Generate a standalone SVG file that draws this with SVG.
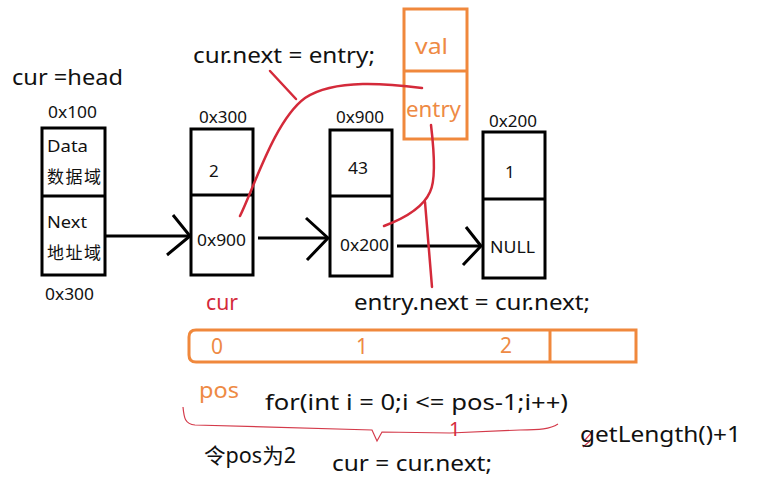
<svg xmlns="http://www.w3.org/2000/svg" width="768" height="496" viewBox="0 0 768 496">
<style>
text{font-family:"Noto Sans","Noto Sans CJK SC",sans-serif;fill:#111}
.box{fill:none;stroke:#000;stroke-width:3}
.obox{fill:none;stroke:#f0883c;stroke-width:3}
.s{font-size:16px}
.m{font-size:17px}
.l{font-size:21px}
.o{fill:#ee8a44}
.r{fill:#d42a3a}
.red{fill:none;stroke:#d42a3a;stroke-width:2.5;stroke-linecap:round}
.thin{fill:none;stroke:#d43a4a;stroke-width:1.2}
.arr{fill:none;stroke:#000;stroke-width:3}
</style>
<rect width="768" height="496" fill="#fff"/>
<text class="l" x="12" y="85" textLength="111" lengthAdjust="spacingAndGlyphs">cur =head</text>
<text class="l" x="193" y="63" textLength="182" lengthAdjust="spacingAndGlyphs">cur.next = entry;</text>
<g id="node1">
<rect class="box" x="42" y="128" width="63" height="147"/>
<line class="box" x1="42" y1="196" x2="105" y2="196"/>
<text class="s" x="48" y="118" textLength="49" lengthAdjust="spacingAndGlyphs">0x100</text>
<text class="m" x="47" y="152" textLength="41" lengthAdjust="spacingAndGlyphs">Data</text>
<text class="m" x="47" y="183" textLength="54">数据域</text>
<text class="m" x="47" y="228" textLength="40" lengthAdjust="spacingAndGlyphs">Next</text>
<text class="m" x="47" y="259" textLength="54">地址域</text>
<text class="s" x="45" y="300" textLength="49" lengthAdjust="spacingAndGlyphs">0x300</text>
</g>
<g id="node2">
<rect class="box" x="191" y="129" width="62" height="146"/>
<line class="box" x1="191" y1="195" x2="253" y2="195"/>
<text class="s" x="199" y="123" textLength="48" lengthAdjust="spacingAndGlyphs">0x300</text>
<text class="m" x="209" y="177">2</text>
<text class="m" x="197" y="246" textLength="49" lengthAdjust="spacingAndGlyphs">0x900</text>
</g>
<g id="node3">
<rect class="box" x="330" y="130" width="62" height="146"/>
<line class="box" x1="330" y1="196" x2="392" y2="196"/>
<text class="s" x="336" y="123" textLength="48" lengthAdjust="spacingAndGlyphs">0x900</text>
<text class="m" x="348" y="174" textLength="20" lengthAdjust="spacingAndGlyphs">43</text>
<text class="m" x="340" y="251" textLength="49" lengthAdjust="spacingAndGlyphs">0x200</text>
</g>
<g id="node4">
<rect class="box" x="483" y="132" width="62" height="146"/>
<line class="box" x1="483" y1="199" x2="545" y2="199"/>
<text class="s" x="489" y="127" textLength="48" lengthAdjust="spacingAndGlyphs">0x200</text>
<text class="m" x="505" y="178">1</text>
<text class="m" x="490" y="253" textLength="45" lengthAdjust="spacingAndGlyphs">NULL</text>
</g>
<g id="entry">
<rect class="obox" x="404" y="9" width="63" height="130"/>
<line class="obox" x1="403" y1="71" x2="467" y2="71"/>
<text class="o" x="415" y="54" font-size="22" textLength="33" lengthAdjust="spacingAndGlyphs">val</text>
<text class="l o" x="406" y="117" textLength="55" lengthAdjust="spacingAndGlyphs">entry</text>
</g>
<g id="array">
<path class="obox" d="M196 330 L636 330 L636 362 L196 362 Q189 362 189 355 L189 337 Q189 330 196 330 Z"/>
<line class="obox" x1="550" y1="330" x2="550" y2="362"/>
<text class="l o" x="211" y="354">0</text>
<text class="l o" x="356" y="354">1</text>
<text class="l o" x="500" y="353">2</text>
</g>
<g id="connectors">
<line class="arr" x1="105" y1="236" x2="189" y2="236"/>
<polyline class="arr" points="173,215 190,236 167,255"/>
<line class="arr" x1="258" y1="238" x2="327" y2="238"/>
<polyline class="arr" points="306,218 328,238 307,260"/>
<line class="arr" x1="397" y1="246" x2="480" y2="246"/>
<polyline class="arr" points="466,227 481,246 463,265"/>
<path class="red" d="M240 216 C255 185 275 120 305 98 C335 78 390 84 422 88"/>
<line class="red" x1="270" y1="71" x2="296" y2="99"/>
<path class="red" d="M431 125 C434 150 436 180 430 192 C422 210 400 220 384 226"/>
<line class="red" x1="425" y1="202" x2="432" y2="287"/>
<path class="thin" d="M183 407 C184 418 185 424 195 425 L372 430 L377 441 L382 432 L450 433 L520 430 C540 430 550 429 558 424"/>
<path class="thin" d="M585 440 L592 432 M583 447 L590 441"/>
</g>
<text class="l r" x="206" y="310" textLength="32" lengthAdjust="spacingAndGlyphs">cur</text>
<text class="l" x="354" y="310" textLength="236" lengthAdjust="spacingAndGlyphs">entry.next = cur.next;</text>
<text class="o" x="199" y="398" font-size="22" textLength="40" lengthAdjust="spacingAndGlyphs">pos</text>
<text class="l" x="265" y="410" textLength="303" lengthAdjust="spacingAndGlyphs">for(int i = 0;i &lt;= pos-1;i++)</text>
<text class="r" x="449" y="436" font-size="20">1</text>
<text class="l" x="580" y="442" textLength="161" lengthAdjust="spacingAndGlyphs">getLength()+1</text>
<text class="l" x="204" y="463" textLength="92" lengthAdjust="spacingAndGlyphs">令pos为2</text>
<text class="l" x="332" y="471" textLength="160" lengthAdjust="spacingAndGlyphs">cur = cur.next;</text>
</svg>
